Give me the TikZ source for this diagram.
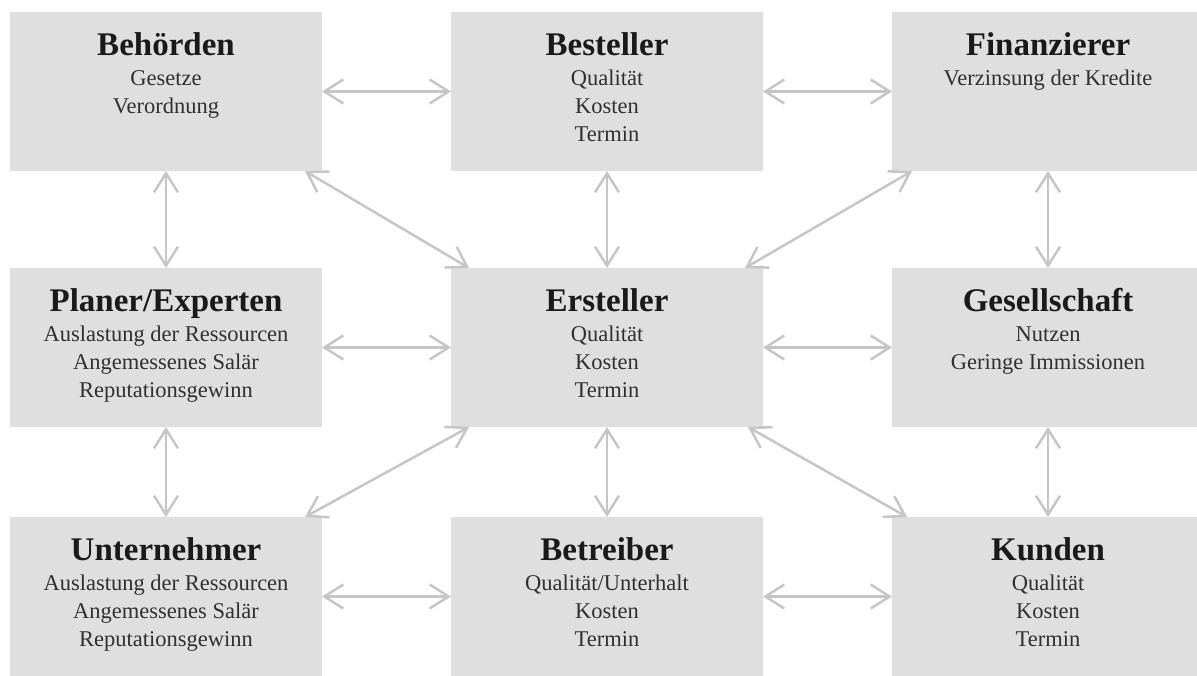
\documentclass[tikz,border=0pt]{standalone}
\usepackage{fontspec}
\setmainfont{Liberation Serif}
\usetikzlibrary{arrows.meta}

\definecolor{boxgrey}{HTML}{DFDFDF}
\definecolor{linkgrey}{HTML}{C6C6C6}
\definecolor{titleink}{HTML}{1A1A1A}
\definecolor{bodyink}{HTML}{303030}

% one stakeholder panel: bold heading on top, interests below
\newcommand\stakepanel[2]{%
  \parbox[c][159pt][t]{312pt}{\centering
    \leavevmode{\fontsize{33}{33}\selectfont\bfseries\color{titleink}\rule{0pt}{43pt}#1}\par
    \vspace{2pt}%
    {\fontsize{22.5}{28}\selectfont\color{bodyink}#2\par}}}

\tikzset{
  stake/.style={fill=boxgrey, inner sep=0pt, outer sep=0pt},
  link/.style={draw=linkgrey, line width=2.5pt,
    {Straight Barb[length=19pt,width=24pt]}-{Straight Barb[length=19pt,width=24pt]}}
}

\begin{document}
\begin{tikzpicture}[x=1pt,y=1pt]
  \useasboundingbox (0,0) rectangle (1197,-675);
  \clip (0,0) rectangle (1197,-675);

  % panels, three columns by three rows
  \node[stake] (beh) at (166,-91.5)   {\stakepanel{Behörden}{Gesetze\\Verordnung}};
  \node[stake] (bes) at (607,-91.5)   {\stakepanel{Besteller}{Qualität\\Kosten\\Termin}};
  \node[stake] (fin) at (1048,-91.5)  {\stakepanel{Finanzierer}{Verzinsung der Kredite}};
  \node[stake] (pla) at (166,-347.5)  {\stakepanel{Planer/Experten}{Auslastung der Ressourcen\\Angemessenes Salär\\Reputationsgewinn}};
  \node[stake] (ers) at (607,-347.5)  {\stakepanel{Ersteller}{Qualität\\Kosten\\Termin}};
  \node[stake] (ges) at (1048,-347.5) {\stakepanel{Gesellschaft}{Nutzen\\Geringe Immissionen}};
  \node[stake] (unt) at (166,-596.5)  {\stakepanel{Unternehmer}{Auslastung der Ressourcen\\Angemessenes Salär\\Reputationsgewinn}};
  \node[stake] (bet) at (607,-596.5)  {\stakepanel{Betreiber}{Qualität/Unterhalt\\Kosten\\Termin}};
  \node[stake] (kun) at (1048,-596.5) {\stakepanel{Kunden}{Qualität\\Kosten\\Termin}};

  % horizontal links
  \draw[link] (beh.east) -- (bes.west);
  \draw[link] (bes.east) -- (fin.west);
  \draw[link] (pla.east) -- (ers.west);
  \draw[link] (ers.east) -- (ges.west);
  \draw[link] (unt.east) -- (bet.west);
  \draw[link] (bet.east) -- (kun.west);

  % vertical links
  \draw[link] (beh.south) -- (pla.north);
  \draw[link] (pla.south) -- (unt.north);
  \draw[link] (bes.south) -- (ers.north);
  \draw[link] (ers.south) -- (bet.north);
  \draw[link] (fin.south) -- (ges.north);
  \draw[link] (ges.south) -- (kun.north);

  % diagonal links to the corners of the centre panel
  \draw[link] ([xshift=-17pt]beh.south east) -- ([xshift=18pt]ers.north west);
  \draw[link] ([xshift=20pt]fin.south west)  -- ([xshift=-18pt]ers.north east);
  \draw[link] ([xshift=-17pt]unt.north east) -- ([xshift=18pt]ers.south west);
  \draw[link] ([xshift=15pt]kun.north west)  -- ([xshift=-15pt]ers.south east);
\end{tikzpicture}
\end{document}
